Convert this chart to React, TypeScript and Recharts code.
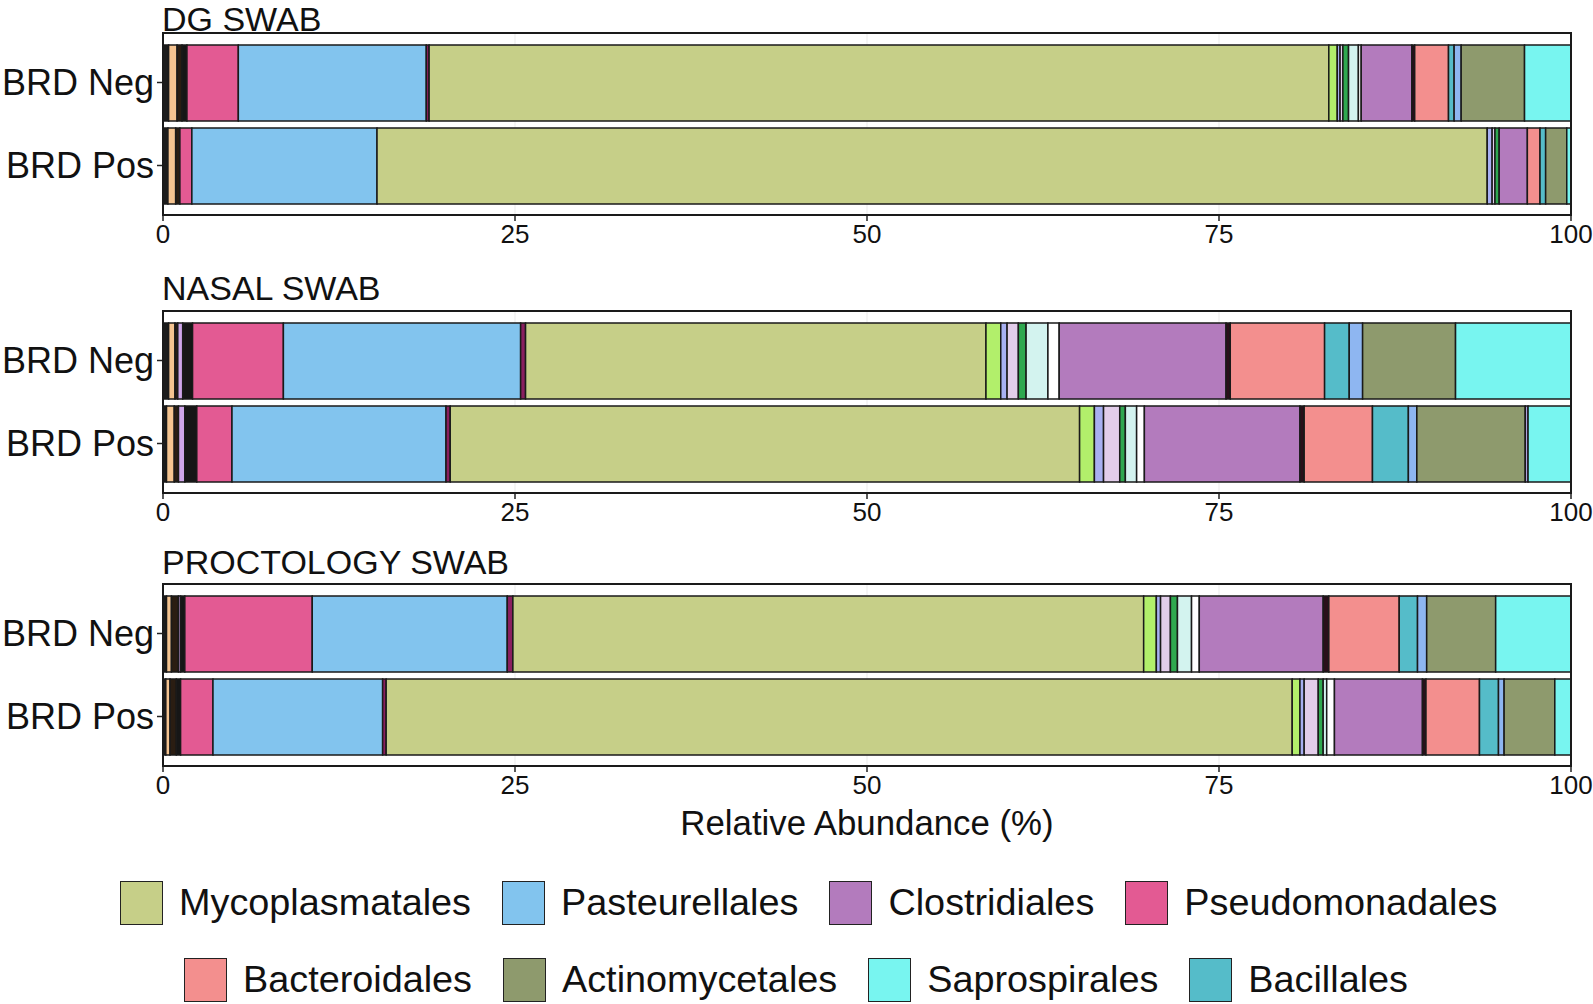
import { BarChart, Bar, XAxis, YAxis, CartesianGrid } from 'recharts';

const FONT = '"Liberation Sans", Arial, Helvetica, sans-serif';

const panels = ['DG SWAB', 'NASAL SWAB', 'PROCTOLOGY SWAB'];
const groups = ['BRD Neg', 'BRD Pos'];
const xTicks = [0, 25, 50, 75, 100];

// relative abundance (%) per bar, in order:
// DG Neg, DG Pos, Nasal Neg, Nasal Pos, Proct Neg, Proct Pos
const other1 = [0.4, 0.35, 0.4, 0.25, 0.25, 0.2];
const other2 = [0.6, 0.55, 0.45, 0.55, 0.35, 0.3];
const other3 = [0.35, 0.3, 0.2, 0.3, 0.5, 0.45];
const other4 = [0, 0, 0.35, 0.45, 0.15, 0];
const other5 = [0.35, 0, 0.7, 0.85, 0.3, 0.3];
const pseudomonadales = [3.65, 0.85, 6.45, 2.5, 9.05, 2.3];
const pasteurellales = [13.35, 13.15, 16.85, 15.2, 13.85, 12.05];
const other6 = [0.2, 0, 0.35, 0.3, 0.4, 0.25];
const mycoplasmatales = [63.9, 78.85, 32.7, 44.7, 44.8, 64.35];
const other7 = [0.6, 0, 1.05, 1.05, 0.9, 0.55];
const other8 = [0.2, 0.35, 0.45, 0.65, 0.3, 0.3];
const other9 = [0.2, 0.2, 0.8, 1.15, 0.7, 1.0];
const other10 = [0.4, 0.3, 0.55, 0.4, 0.5, 0.35];
const other11 = [0.7, 0, 1.55, 0.8, 1.0, 0.25];
const other12 = [0.2, 0, 0.8, 0.55, 0.55, 0.55];
const clostridiales = [3.6, 2.0, 11.85, 11.05, 8.8, 6.25];
const other13 = [0.2, 0, 0.3, 0.3, 0.4, 0.25];
const bacteroidales = [2.4, 0.9, 6.7, 4.85, 5.0, 3.8];
const bacillales = [0.4, 0.4, 1.75, 2.55, 1.3, 1.35];
const other14 = [0.5, 0, 0.95, 0.6, 0.65, 0.4];
const actinomycetales = [4.5, 1.5, 6.6, 7.7, 4.9, 3.6];
const other15 = [0, 0, 0, 0.2, 0, 0];
const saprospirales = [3.3, 0.3, 8.2, 3.05, 5.35, 1.15];

const legendRow1 = ['Mycoplasmatales', 'Pasteurellales', 'Clostridiales', 'Pseudomonadales'];
const legendRow2 = ['Bacteroidales', 'Actinomycetales', 'Saprospirales', 'Bacillales'];

const colors: Record<string, string> = {
  other1: '#1c1c1c',
  other2: '#f5c491',
  other3: '#2a1d12',
  other4: '#cfa6ea',
  other5: '#161616',
  Pseudomonadales: '#e35a93',
  Pasteurellales: '#82c4ee',
  other6: '#8a1f5f',
  Mycoplasmatales: '#c6cf88',
  other7: '#b2ef6b',
  other8: '#a8b0f2',
  other9: '#e2cdea',
  other10: '#2fa84f',
  other11: '#d3f3ef',
  other12: '#ffffff',
  Clostridiales: '#b37bbd',
  other13: '#2a0f1a',
  Bacteroidales: '#f38f8e',
  Bacillales: '#55bcc9',
  other14: '#8eb6f1',
  Actinomycetales: '#8e9a6d',
  other15: '#b0a0e0',
  Saprospirales: '#78f5f0',
};

// stacking order, left to right
const taxa: [string, number[]][] = [
  ['other1', other1],
  ['other2', other2],
  ['other3', other3],
  ['other4', other4],
  ['other5', other5],
  ['Pseudomonadales', pseudomonadales],
  ['Pasteurellales', pasteurellales],
  ['other6', other6],
  ['Mycoplasmatales', mycoplasmatales],
  ['other7', other7],
  ['other8', other8],
  ['other9', other9],
  ['other10', other10],
  ['other11', other11],
  ['other12', other12],
  ['Clostridiales', clostridiales],
  ['other13', other13],
  ['Bacteroidales', bacteroidales],
  ['Bacillales', bacillales],
  ['other14', other14],
  ['Actinomycetales', actinomycetales],
  ['other15', other15],
  ['Saprospirales', saprospirales],
];

const boxTops = [33, 311, 584];
const titleTops = [0, 269, 543];
const BOX_H = 182;

function Panel({ index }: { index: number }) {
  const rows = groups.map((g, gi) => {
    const row: Record<string, string | number> = { group: g };
    taxa.forEach(([key, vals]) => {
      row[key] = vals[index * 2 + gi];
    });
    return row;
  });
  const top = boxTops[index];
  return (
    <>
      <div
        style={{
          position: 'absolute',
          left: 162,
          top: titleTops[index],
          fontSize: 34,
          lineHeight: 1.15,
          color: '#111',
          whiteSpace: 'nowrap',
        }}
      >
        {panels[index]}
      </div>
      <div style={{ position: 'absolute', left: 0, top: top - 10 }}>
        <BarChart
          width={1593}
          height={BOX_H + 10 + 45}
          data={rows}
          layout="vertical"
          margin={{ top: 10, right: 22, bottom: 0, left: 0 }}
          barSize={76}
        >
          <CartesianGrid horizontal={false} stroke="#ebebeb" strokeWidth={1} />
          <XAxis
            type="number"
            domain={[0, 100]}
            ticks={xTicks}
            interval={0}
            allowDataOverflow
            axisLine={false}
            tickLine={{ stroke: '#222', strokeWidth: 1.5 }}
            tickSize={6}
            tickMargin={4}
            tick={{ fontSize: 26, fill: '#111', fontFamily: FONT }}
            height={45}
          />
          <YAxis
            type="category"
            dataKey="group"
            width={163}
            axisLine={false}
            tickLine={{ stroke: '#222', strokeWidth: 1.5 }}
            tickSize={6}
            tickMargin={3}
            tick={{ fontSize: 36, fill: '#111', fontFamily: FONT }}
            padding={{ top: 8, bottom: 8 }}
          />
          {taxa.map(([key]) => (
            <Bar
              key={key}
              dataKey={key}
              stackId="s"
              fill={colors[key]}
              stroke="#1a1a1a"
              strokeWidth={1.5}
              isAnimationActive={false}
            />
          ))}
        </BarChart>
      </div>
      <div
        style={{
          position: 'absolute',
          left: 162,
          top: top - 1,
          width: 1410,
          height: BOX_H + 2,
          border: '2px solid #1a1a1a',
          boxSizing: 'border-box',
          pointerEvents: 'none',
        }}
      />
    </>
  );
}

function LegendRow({ names, left, top }: { names: string[]; left: number; top: number }) {
  return (
    <div style={{ position: 'absolute', left, top, display: 'flex', alignItems: 'center', height: 44 }}>
      {names.map((n, i) => (
        <div key={n} style={{ display: 'flex', alignItems: 'center', marginRight: i < names.length - 1 ? 31 : 0 }}>
          <div
            style={{
              width: 43,
              height: 44,
              background: colors[n],
              border: '1.5px solid #222',
              boxSizing: 'border-box',
              marginRight: 16,
            }}
          />
          <span style={{ fontSize: 37.8, lineHeight: 1, color: '#111', whiteSpace: 'nowrap' }}>{n}</span>
        </div>
      ))}
    </div>
  );
}

export default function App() {
  return (
    <div
      style={{
        position: 'absolute',
        left: 0,
        top: 0,
        width: 1593,
        height: 1004,
        background: '#fff',
        fontFamily: FONT,
        overflow: 'hidden',
      }}
    >
      {panels.map((p, i) => (
        <Panel key={p} index={i} />
      ))}
      <div
        style={{
          position: 'absolute',
          left: 163,
          width: 1408,
          top: 806,
          textAlign: 'center',
          fontSize: 34.8,
          lineHeight: 1,
          color: '#111',
        }}
      >
        Relative Abundance (%)
      </div>
      <LegendRow names={legendRow1} left={120} top={881} />
      <LegendRow names={legendRow2} left={184} top={958} />
    </div>
  );
}
